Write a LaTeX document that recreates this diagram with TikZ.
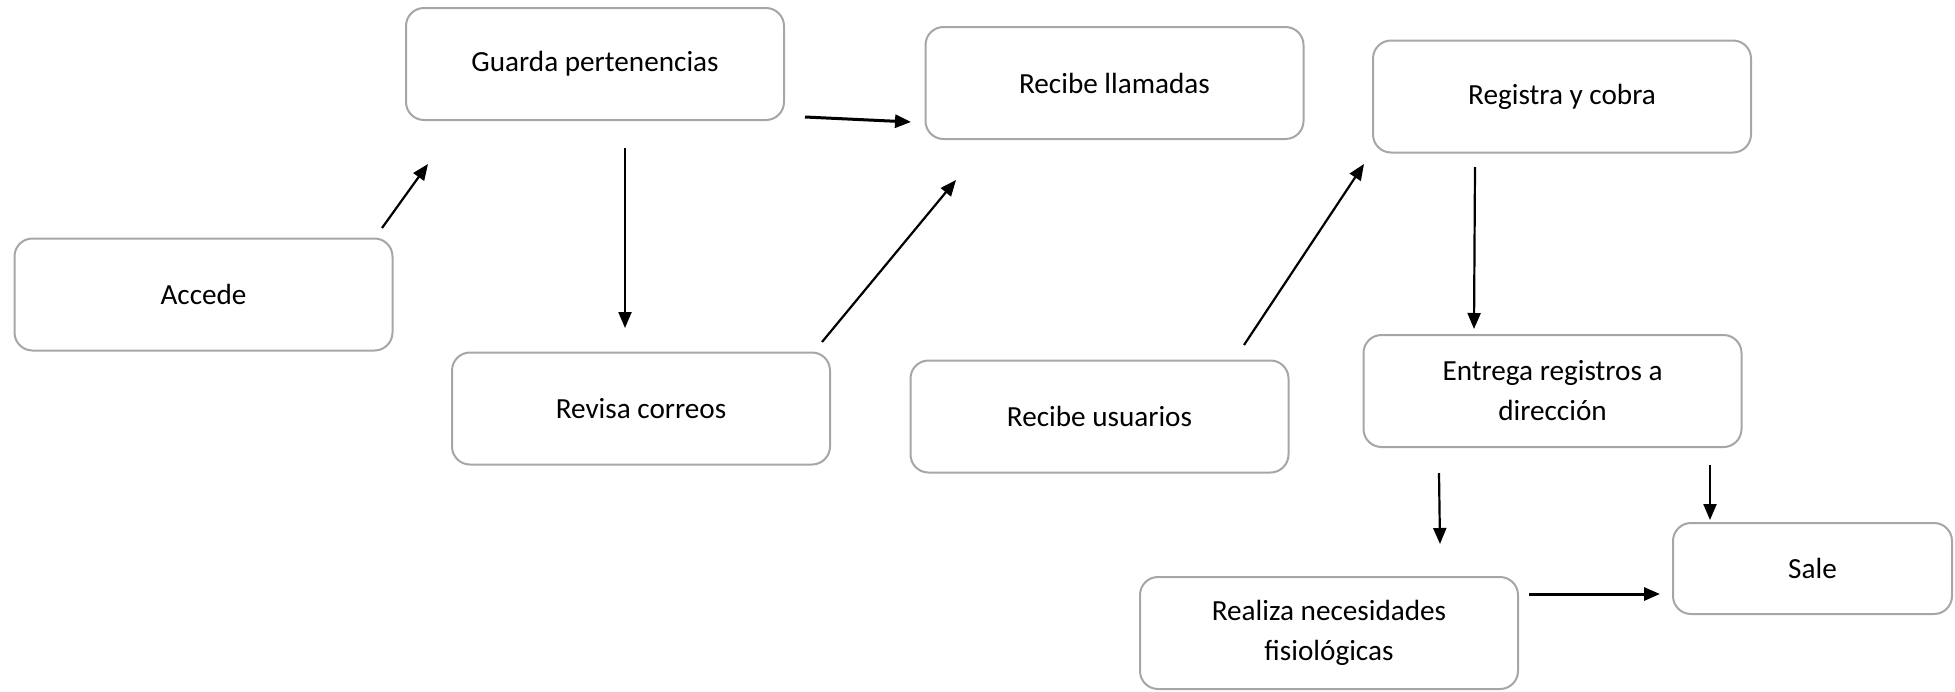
\documentclass[tikz,border=0pt]{standalone}
\usepackage{fontspec}
\setmainfont{Carlito}
\usetikzlibrary{arrows.meta}
\definecolor{boxgray}{HTML}{A6A6A6}
\tikzset{
  stepbox/.style={draw=boxgray, line width=1pt, rounded corners=9pt, minimum width=189pt, minimum height=56pt, inner sep=2pt, align=center, font=\fontsize{14.6pt}{20pt}\selectfont},
  flow/.style={line width=1.1pt, -{Triangle[length=8pt,width=6.5pt]}},
  flowthick/.style={line width=1.5pt, -{Triangle[length=8pt,width=6.5pt]}}
}
\begin{document}
\begin{tikzpicture}[x=0.5pt,y=-0.5pt]
\useasboundingbox (0,0) rectangle (1955,691);
\node[stepbox] (acc) at (203.5,294.5) {Accede};
\node[stepbox] (gua) at (595,64) {Guarda pertenencias};
\node[stepbox] (rll) at (1114.5,83) {Recibe llamadas};
\node[stepbox] (reg) at (1562,96.5) {Registra y cobra};
\node[stepbox] (rev) at (641,408.5) {Revisa correos};
\node[stepbox] (rus) at (1099.5,416.5) {Recibe usuarios};
\node[stepbox] (ent) at (1552.5,391) {Entrega registros a\\dirección};
\node[stepbox] (rea) at (1329,633) {Realiza necesidades\\fisiológicas};
\node[stepbox, minimum width=139.5pt, minimum height=45.5pt] (sal) at (1812.5,568.5) {Sale};
\coordinate (a1s) at (382,228); \coordinate (a1e) at (428,164);
\coordinate (a2s) at (625,148); \coordinate (a2e) at (625,328);
\coordinate (a3s) at (805,117); \coordinate (a3e) at (911,122);
\coordinate (a4s) at (822,342); \coordinate (a4e) at (956,180);
\coordinate (a5s) at (1244,345); \coordinate (a5e) at (1364,164);
\coordinate (a6s) at (1475,167); \coordinate (a6e) at (1474,329);
\coordinate (a7s) at (1439,473); \coordinate (a7e) at (1440,544);
\coordinate (a8s) at (1710,465); \coordinate (a8e) at (1710,520);
\coordinate (a9s) at (1529,594); \coordinate (a9e) at (1660,594);
\draw[flow] (a1s) -- (a1e);
\draw[flow] (a2s) -- (a2e);
\draw[flowthick] (a3s) -- (a3e);
\draw[flow] (a4s) -- (a4e);
\draw[flow] (a5s) -- (a5e);
\draw[flow] (a6s) -- (a6e);
\draw[flow] (a7s) -- (a7e);
\draw[flow] (a8s) -- (a8e);
\draw[flowthick] (a9s) -- (a9e);
\end{tikzpicture}
\end{document}
